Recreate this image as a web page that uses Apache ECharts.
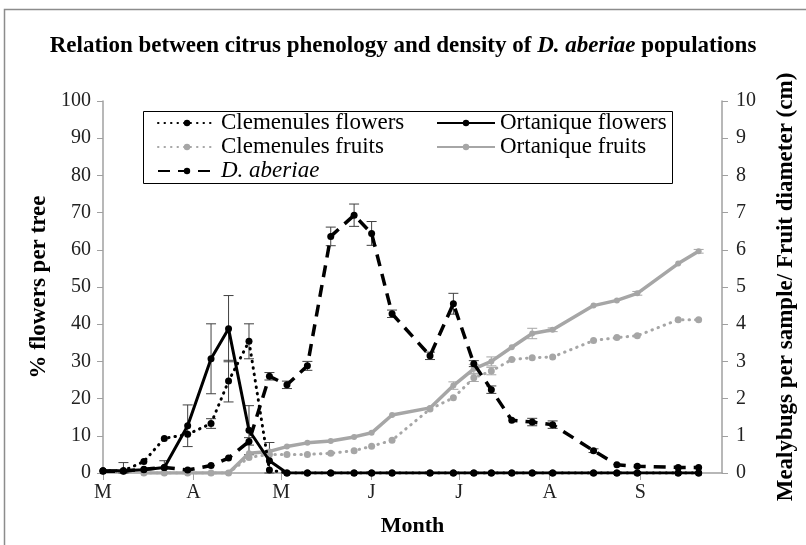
<!DOCTYPE html>
<html>
<head>
<meta charset="utf-8">
<script src="https://cdn.jsdelivr.net/npm/echarts@6/dist/echarts.min.js"></script>
<style>
  html, body { margin: 0; padding: 0; background: #fff; }
  #chart { width: 806px; height: 545px; }
</style>
</head>
<body>
<div id="chart"></div>
<script>
// days counted from 1 March
var monthDays = [0, 31, 61, 92, 122, 153, 184]
var monthLabels = ['M', 'A', 'M', 'J', 'J', 'A', 'S']

var sampleDays = [0, 7, 14, 21, 29, 37, 43, 50, 57, 63, 70, 78, 86, 92, 99, 112, 120, 127, 133, 140, 147, 154, 168, 176, 183, 197, 204]

// % flowers per tree (left axis)
var clemFlowers = [0.6, 0.6, 3.1, 9.3, 10.4, 13.3, 24.7, 35.4, 0.8, 0, 0, 0, 0, 0, 0, 0, 0, 0, 0, 0, 0, 0, 0, 0, 0, 0, 0]
var clemFlowersErr = [0, 0, 0, 0, 0, 1.3, 5.6, 4.7, 0, 0, 0, 0, 0, 0, 0, 0, 0, 0, 0, 0, 0, 0, 0, 0, 0, 0, 0]
var ortaFlowers = [0.6, 0.6, 0.9, 1.5, 12.7, 30.7, 38.8, 11.5, 3.3, 0, 0, 0, 0, 0, 0, 0, 0, 0, 0, 0, 0, 0, 0, 0, 0, 0, 0]
var ortaFlowersErr = [0, 2.2, 0, 1.8, 5.6, 9.4, 8.9, 6.6, 4.9, 0, 0, 0, 0, 0, 0, 0, 0, 0, 0, 0, 0, 0, 0, 0, 0, 0, 0]

// mealybugs per sample (right axis)
var aberiae = [0.05, 0.05, 0.1, 0.15, 0.08, 0.2, 0.4, 0.85, 2.6, 2.37, 2.88, 6.36, 6.93, 6.44, 4.28, 3.15, 4.55, 2.94, 2.24, 1.42, 1.37, 1.3, 0.6, 0.22, 0.18, 0.15, 0.15]
var aberiaeErr = [0, 0, 0, 0, 0, 0, 0, 0.1, 0.1, 0.1, 0.12, 0.25, 0.3, 0.32, 0.1, 0.1, 0.28, 0.08, 0.1, 0, 0.1, 0.1, 0.05, 0, 0, 0, 0]

// fruit diameter in cm (right axis), sampled from day 14
var fruitDays = [14, 21, 29, 37, 43, 50, 57, 63, 70, 78, 86, 92, 99, 112, 120, 127, 133, 140, 147, 154, 168, 176, 183, 197, 204]
var clemFruits = [0, 0, 0, 0, 0, 0.42, 0.5, 0.5, 0.5, 0.53, 0.6, 0.72, 0.88, 1.72, 2.02, 2.56, 2.74, 3.05, 3.1, 3.12, 3.56, 3.64, 3.69, 4.12, 4.12]
var clemFruitsErr = [0, 0, 0, 0, 0, 0, 0, 0, 0, 0, 0, 0, 0, 0, 0, 0.1, 0.1, 0, 0, 0, 0, 0, 0, 0, 0]
var ortaFruits = [0, 0, 0, 0, 0, 0.53, 0.58, 0.71, 0.81, 0.86, 0.97, 1.08, 1.56, 1.75, 2.35, 2.8, 3.0, 3.38, 3.75, 3.85, 4.5, 4.64, 4.83, 5.63, 5.96]
var ortaFruitsErr = [0, 0, 0, 0, 0, 0, 0, 0, 0, 0, 0, 0, 0, 0, 0.1, 0.12, 0.12, 0, 0.14, 0.05, 0, 0, 0.05, 0, 0.05]

var serif = '"Liberation Serif", "Times New Roman", serif'

function pairs(days, vals) {
  return days.map(function (d, i) { return [d, vals[i]] })
}

function errPairs(days, vals, errs) {
  var out = []
  days.forEach(function (d, i) {
    if (errs[i] > 0) out.push([d, vals[i], errs[i]])
  })
  return out
}

function renderError(params, api) {
  var x = api.value(0)
  var y = api.value(1)
  var e = api.value(2)
  var hi = api.coord([x, y + e])
  var lo = api.coord([x, Math.max(0, y - e)])
  var w = 5
  var style = { stroke: api.visual('color'), lineWidth: 1 }
  return {
    type: 'group',
    children: [
      { type: 'line', shape: { x1: hi[0], y1: hi[1], x2: lo[0], y2: lo[1] }, style: style },
      { type: 'line', shape: { x1: hi[0] - w, y1: hi[1], x2: hi[0] + w, y2: hi[1] }, style: style },
      { type: 'line', shape: { x1: lo[0] - w, y1: lo[1], x2: lo[0] + w, y2: lo[1] }, style: style }
    ]
  }
}

function errSeries(data, axis, color) {
  return {
    type: 'custom',
    yAxisIndex: axis,
    renderItem: renderError,
    itemStyle: { color: color },
    data: data,
    z: 1,
    silent: true
  }
}

var chart = echarts.init(document.getElementById('chart'))

chart.setOption({
  backgroundColor: '#fff',
  animation: false,
  title: {
    left: 'center',
    top: 30,
    text: '{b|Relation between citrus phenology and density of }{bi|D. aberiae}{b| populations}',
    textStyle: {
      rich: {
        b: { fontFamily: serif, fontWeight: 'bold', fontSize: 23, color: '#000' },
        bi: { fontFamily: serif, fontWeight: 'bold', fontStyle: 'italic', fontSize: 23, color: '#000' }
      }
    }
  },
  graphic: [
    {
      type: 'rect',
      shape: { x: 4.5, y: 9.5, width: 900, height: 700 },
      style: { fill: 'none', stroke: '#8c8c8c', lineWidth: 1.5 },
      silent: true
    },
    {
      type: 'rect',
      shape: { x: 143.5, y: 111.5, width: 529, height: 72 },
      style: { fill: '#fff', stroke: '#000', lineWidth: 1 },
      z: 0,
      silent: true
    }
  ],
  legend: {
    left: 143,
    top: 111,
    width: 640,
    padding: [0, 14],
    itemGap: 0,
    itemWidth: 58,
    itemHeight: 8,
    data: ['Clemenules flowers', 'Ortanique flowers', 'Clemenules fruits', 'Ortanique fruits', 'D. aberiae'],
    formatter: function (name) {
      return name === 'D. aberiae' ? '{i|D. aberiae}' : name
    },
    textStyle: {
      fontFamily: serif,
      fontSize: 23,
      color: '#000',
      width: 215,
      lineHeight: 24,
      rich: {
        i: { fontFamily: serif, fontStyle: 'italic', fontSize: 23, color: '#000' }
      }
    }
  },
  grid: {
    left: 103,
    right: 80,
    top: 101,
    bottom: 72
  },
  xAxis: {
    type: 'value',
    min: 0,
    max: 212,
    name: 'Month',
    nameLocation: 'middle',
    nameGap: 42,
    nameTextStyle: { fontFamily: serif, fontWeight: 'bold', fontSize: 22, color: '#000' },
    axisLine: { lineStyle: { color: '#a0a0a0', width: 1.5 } },
    axisTick: { customValues: monthDays, length: 7, lineStyle: { color: '#a0a0a0' } },
    axisLabel: {
      customValues: monthDays,
      margin: 10,
      fontFamily: serif,
      fontSize: 20,
      color: '#222',
      formatter: function (v) {
        var i = monthDays.indexOf(v)
        return i >= 0 ? monthLabels[i] : ''
      }
    },
    splitLine: { show: false }
  },
  yAxis: [{
    type: 'value',
    min: 0,
    max: 100,
    interval: 10,
    name: '% flowers per tree',
    nameLocation: 'middle',
    nameGap: 50,
    nameTextStyle: { fontFamily: serif, fontWeight: 'bold', fontSize: 23, color: '#000' },
    axisLine: { show: true, lineStyle: { color: '#a0a0a0', width: 1.5 } },
    axisTick: { show: true, length: 6, lineStyle: { color: '#a0a0a0' } },
    axisLabel: { fontFamily: serif, fontSize: 20, color: '#222', margin: 12 },
    splitLine: { show: false }
  }, {
    type: 'value',
    min: 0,
    max: 10,
    interval: 1,
    name: 'Mealybugs per sample/ Fruit diameter (cm)',
    nameLocation: 'middle',
    nameGap: 53,
    nameRotate: 90,
    nameTextStyle: { fontFamily: serif, fontWeight: 'bold', fontSize: 23, color: '#000' },
    axisLine: { show: true, lineStyle: { color: '#a0a0a0', width: 1.5 } },
    axisTick: { show: true, length: 6, lineStyle: { color: '#a0a0a0' } },
    axisLabel: { fontFamily: serif, fontSize: 20, color: '#222', margin: 14 },
    splitLine: { show: false }
  }],
  series: [
    {
      name: 'Clemenules flowers',
      type: 'line',
      yAxisIndex: 0,
      symbol: 'circle',
      symbolSize: 7,
      color: '#000',
      lineStyle: { width: 3, type: [0.5, 6], cap: 'round' },
      data: pairs(sampleDays, clemFlowers),
      z: 4
    },
    {
      name: 'Ortanique flowers',
      type: 'line',
      yAxisIndex: 0,
      symbol: 'circle',
      symbolSize: 7,
      color: '#000',
      lineStyle: { width: 3 },
      data: pairs(sampleDays, ortaFlowers),
      z: 4
    },
    {
      name: 'Clemenules fruits',
      type: 'line',
      yAxisIndex: 1,
      symbol: 'circle',
      symbolSize: 7,
      color: '#a6a6a6',
      lineStyle: { width: 3, type: [0.5, 6], cap: 'round' },
      data: pairs(fruitDays, clemFruits),
      z: 3
    },
    {
      name: 'Ortanique fruits',
      type: 'line',
      yAxisIndex: 1,
      symbol: 'circle',
      symbolSize: 6,
      color: '#a6a6a6',
      lineStyle: { width: 3.5 },
      data: pairs(fruitDays, ortaFruits),
      z: 3
    },
    {
      name: 'D. aberiae',
      type: 'line',
      yAxisIndex: 1,
      symbol: 'circle',
      symbolSize: 7,
      color: '#000',
      lineStyle: { width: 3.5, type: [12, 8] },
      data: pairs(sampleDays, aberiae),
      z: 5
    },
    errSeries(errPairs(sampleDays, clemFlowers, clemFlowersErr), 0, '#404040'),
    errSeries(errPairs(sampleDays, ortaFlowers, ortaFlowersErr), 0, '#404040'),
    errSeries(errPairs(sampleDays, aberiae, aberiaeErr), 1, '#404040'),
    errSeries(errPairs(fruitDays, clemFruits, clemFruitsErr), 1, '#a6a6a6'),
    errSeries(errPairs(fruitDays, ortaFruits, ortaFruitsErr), 1, '#a6a6a6')
  ]
})
</script>
</body>
</html>
